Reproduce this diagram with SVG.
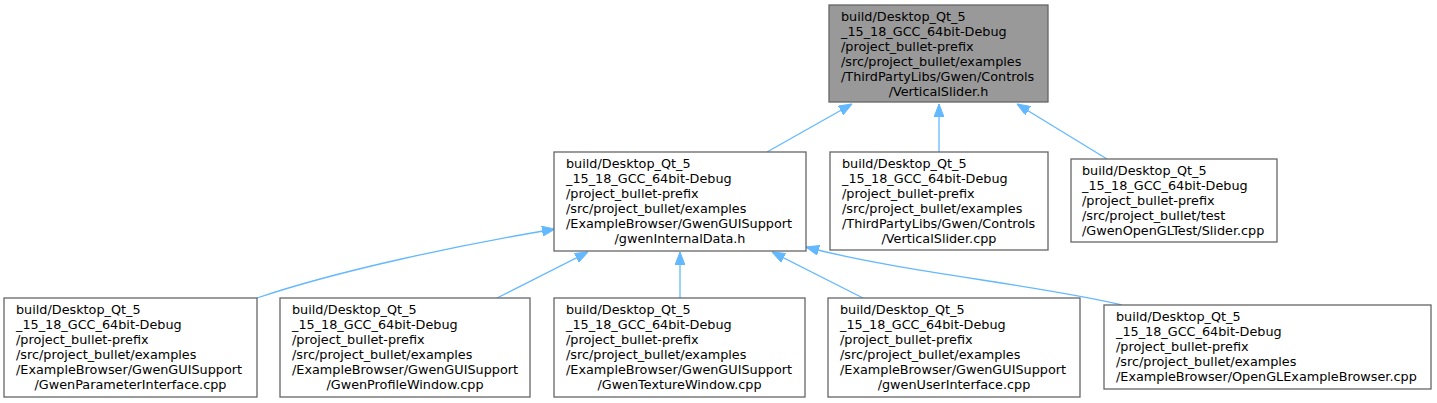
<svg xmlns="http://www.w3.org/2000/svg" width="1437" height="403" viewBox="0 0 1437 403">
<style>
.n rect{fill:#ffffff;stroke:#666666;stroke-width:1.3}
.n.cur rect{fill:#999999}
.n text{font-family:"DejaVu Sans",sans-serif;font-size:12.8px;fill:#000000}
.e path{fill:none;stroke:#63b8ff;stroke-width:1.3}
</style>
<defs>
<marker id="ah" viewBox="0 0 13 10" refX="13" refY="5" markerWidth="13" markerHeight="10" markerUnits="userSpaceOnUse" orient="auto">
<path d="M0,0 L13,5 L0,10 z" fill="#63b8ff" stroke="#63b8ff" stroke-width="1"/>
</marker>
</defs>
<rect width="1437" height="403" fill="#ffffff"/>
<g id="edges" class="e">
<path d="M767,152 L852,104" marker-end="url(#ah)"/>
<path d="M939,152 L939,104" marker-end="url(#ah)"/>
<path d="M1107,159 L1017,104" marker-end="url(#ah)"/>
<path d="M257,298 C340,270 460,245 555,229" marker-end="url(#ah)"/>
<path d="M497,298 L588,252" marker-end="url(#ah)"/>
<path d="M680,298 L680,252" marker-end="url(#ah)"/>
<path d="M863,298 L772,252" marker-end="url(#ah)"/>
<path d="M1122,305 C1040,285 900,272 806,247" marker-end="url(#ah)"/>
</g>
<g id="node_VerticalSlider_h" class="n cur">
<rect x="829" y="5" width="219" height="97"/>
<text><tspan x="841" y="21">build/Desktop_Qt_5</tspan><tspan x="841" y="36">_15_18_GCC_64bit-Debug</tspan><tspan x="841" y="51">/project_bullet-prefix</tspan><tspan x="841" y="66">/src/project_bullet/examples</tspan><tspan x="841" y="81">/ThirdPartyLibs/Gwen/Controls</tspan><tspan x="938.5" y="96" text-anchor="middle">/VerticalSlider.h</tspan></text>
</g>
<g id="node_gwenInternalData_h" class="n">
<rect x="554" y="152" width="252" height="99"/>
<text><tspan x="566" y="168">build/Desktop_Qt_5</tspan><tspan x="566" y="183">_15_18_GCC_64bit-Debug</tspan><tspan x="566" y="198">/project_bullet-prefix</tspan><tspan x="566" y="213">/src/project_bullet/examples</tspan><tspan x="566" y="228">/ExampleBrowser/GwenGUISupport</tspan><tspan x="680" y="243" text-anchor="middle">/gwenInternalData.h</tspan></text>
</g>
<g id="node_VerticalSlider_cpp" class="n">
<rect x="830" y="152" width="218" height="98"/>
<text><tspan x="842" y="168">build/Desktop_Qt_5</tspan><tspan x="842" y="183">_15_18_GCC_64bit-Debug</tspan><tspan x="842" y="198">/project_bullet-prefix</tspan><tspan x="842" y="213">/src/project_bullet/examples</tspan><tspan x="842" y="228">/ThirdPartyLibs/Gwen/Controls</tspan><tspan x="939" y="243" text-anchor="middle">/VerticalSlider.cpp</tspan></text>
</g>
<g id="node_Slider_cpp" class="n">
<rect x="1071" y="159" width="206" height="83"/>
<text><tspan x="1082" y="175">build/Desktop_Qt_5</tspan><tspan x="1082" y="190">_15_18_GCC_64bit-Debug</tspan><tspan x="1082" y="205">/project_bullet-prefix</tspan><tspan x="1082" y="220">/src/project_bullet/test</tspan><tspan x="1082" y="235">/GwenOpenGLTest/Slider.cpp</tspan></text>
</g>
<g id="node_GwenParameterInterface_cpp" class="n">
<rect x="4" y="298" width="253" height="99"/>
<text><tspan x="16" y="314">build/Desktop_Qt_5</tspan><tspan x="16" y="329">_15_18_GCC_64bit-Debug</tspan><tspan x="16" y="344">/project_bullet-prefix</tspan><tspan x="16" y="359">/src/project_bullet/examples</tspan><tspan x="16" y="374">/ExampleBrowser/GwenGUISupport</tspan><tspan x="130.5" y="389" text-anchor="middle">/GwenParameterInterface.cpp</tspan></text>
</g>
<g id="node_GwenProfileWindow_cpp" class="n">
<rect x="280" y="298" width="250" height="99"/>
<text><tspan x="292" y="314">build/Desktop_Qt_5</tspan><tspan x="292" y="329">_15_18_GCC_64bit-Debug</tspan><tspan x="292" y="344">/project_bullet-prefix</tspan><tspan x="292" y="359">/src/project_bullet/examples</tspan><tspan x="292" y="374">/ExampleBrowser/GwenGUISupport</tspan><tspan x="405" y="389" text-anchor="middle">/GwenProfileWindow.cpp</tspan></text>
</g>
<g id="node_GwenTextureWindow_cpp" class="n">
<rect x="554" y="298" width="251" height="99"/>
<text><tspan x="566" y="314">build/Desktop_Qt_5</tspan><tspan x="566" y="329">_15_18_GCC_64bit-Debug</tspan><tspan x="566" y="344">/project_bullet-prefix</tspan><tspan x="566" y="359">/src/project_bullet/examples</tspan><tspan x="566" y="374">/ExampleBrowser/GwenGUISupport</tspan><tspan x="679.5" y="389" text-anchor="middle">/GwenTextureWindow.cpp</tspan></text>
</g>
<g id="node_gwenUserInterface_cpp" class="n">
<rect x="828" y="298" width="252" height="99"/>
<text><tspan x="840" y="314">build/Desktop_Qt_5</tspan><tspan x="840" y="329">_15_18_GCC_64bit-Debug</tspan><tspan x="840" y="344">/project_bullet-prefix</tspan><tspan x="840" y="359">/src/project_bullet/examples</tspan><tspan x="840" y="374">/ExampleBrowser/GwenGUISupport</tspan><tspan x="954" y="389" text-anchor="middle">/gwenUserInterface.cpp</tspan></text>
</g>
<g id="node_OpenGLExampleBrowser_cpp" class="n">
<rect x="1104" y="305" width="327" height="84"/>
<text><tspan x="1116" y="321">build/Desktop_Qt_5</tspan><tspan x="1116" y="336">_15_18_GCC_64bit-Debug</tspan><tspan x="1116" y="351">/project_bullet-prefix</tspan><tspan x="1116" y="366">/src/project_bullet/examples</tspan><tspan x="1116" y="381">/ExampleBrowser/OpenGLExampleBrowser.cpp</tspan></text>
</g>
</svg>
